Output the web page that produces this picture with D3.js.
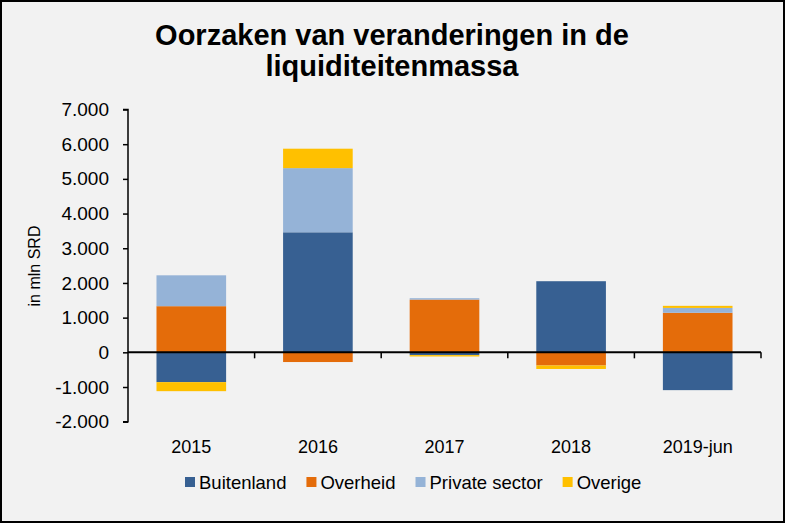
<!DOCTYPE html>
<html><head><meta charset="utf-8">
<script src="https://cdn.jsdelivr.net/npm/d3@7"></script>
<style>
html,body{margin:0;padding:0;background:#f2f2f2;}
svg{display:block;font-family:Arial,"Liberation Sans",sans-serif;}
</style></head>
<body>
<svg id="chart" width="785" height="523"></svg>
<script>
const categories = ["2015","2016","2017","2018","2019-jun"];
const seriesNames = ["Buitenland","Overheid","Private sector","Overige"];
const buitenland = [-860, 3460, -80, 2050, -1090];
const overheid   = [1330, -280, 1520, -380, 1140];
const privateSector = [890, 1850, 40, 0, 140];
const overige    = [-260, 560, -40, -100, 60];
const yTicks = [-2000,-1000,0,1000,2000,3000,4000,5000,6000,7000];
const colors = ["#376092","#e46c0a","#95b3d7","#ffc000"];

(function(){
const rows = categories.map((c,i)=>({cat:c,
  "Buitenland":buitenland[i],"Overheid":overheid[i],
  "Private sector":privateSector[i],"Overige":overige[i]}));

const svg = d3.select("#chart");
const W=785,H=523;
svg.append("rect").attr("x",1).attr("y",1).attr("width",W-2).attr("height",H-2)
  .attr("fill","#f2f2f2").attr("stroke","#000").attr("stroke-width",2);

const pLeft=128,pRight=761,pTop=109.5,pBottom=421.7;
const x = d3.scaleBand().domain(categories).range([pLeft,pRight]).paddingInner(0.45).paddingOuter(0.225);
const y = d3.scaleLinear().domain([-2000,7000]).range([pBottom,pTop]);

const stacked = d3.stack().keys(seriesNames).offset(d3.stackOffsetDiverging)(rows);

svg.append("g").selectAll("g").data(stacked).join("g")
  .attr("fill",(d,i)=>colors[i])
  .selectAll("rect").data(d=>d).join("rect")
  .attr("x",d=>x(d.data.cat))
  .attr("width",x.bandwidth())
  .attr("y",d=>y(Math.max(d[0],d[1])))
  .attr("height",d=>Math.abs(y(d[0])-y(d[1])));

// Y axis
const fmt = d=>d3.format(",")(d).replace(/,/g,".").replace("\u2212","-");
const yAxis = d3.axisLeft(y).tickValues(yTicks).tickSize(5).tickPadding(14).tickFormat(fmt);
const gy = svg.append("g").attr("transform",`translate(${pLeft},0)`).call(yAxis);
gy.select(".domain").attr("stroke","#000").attr("stroke-width",1.5).attr("d",`M-5,${pTop}H0V${pBottom}H-5`);
gy.selectAll(".tick line").attr("stroke","#000").attr("stroke-width",1.5);
gy.selectAll(".tick text").attr("font-size",19).attr("fill","#000").attr("font-family","Arial,'Liberation Sans',sans-serif");

// X axis at zero
const y0 = y(0);
const gx = svg.append("g");
gx.append("line").attr("x1",pLeft).attr("x2",pRight).attr("y1",y0).attr("y2",y0)
  .attr("stroke","#000").attr("stroke-width",2);
const centers = categories.map(c=>x(c)+x.bandwidth()/2);
const bnds = centers.slice(1).map((c,i)=>(c+centers[i])/2).concat([pRight]);
gx.selectAll("line.tk").data(bnds).join("line").attr("class","tk")
  .attr("x1",d=>d).attr("x2",d=>d).attr("y1",y0).attr("y2",y0+6)
  .attr("stroke","#000").attr("stroke-width",1.5);
svg.append("g").selectAll("text").data(categories).join("text")
  .attr("x",d=>x(d)+x.bandwidth()/2).attr("y",453)
  .attr("text-anchor","middle").attr("font-size",18).attr("fill","#000")
  .text(d=>d);

// Y title
svg.append("text").attr("transform","translate(40,266) rotate(-90)")
  .attr("text-anchor","middle").attr("font-size",16).attr("fill","#000").text("in mln SRD");

// Title
const title = svg.append("text").attr("text-anchor","middle").attr("font-weight","bold")
  .attr("font-size",29).attr("fill","#000");
title.append("tspan").attr("x",392).attr("y",45).text("Oorzaken van veranderingen in de");
title.append("tspan").attr("x",392).attr("y",76).text("liquiditeitenmassa");

// Legend
const lg = svg.append("g");
let lx = 185;
seriesNames.forEach((n,i)=>{
  lg.append("rect").attr("x",lx).attr("y",477).attr("width",10).attr("height",10).attr("fill",colors[i]);
  const t = lg.append("text").attr("x",lx+14).attr("y",489).attr("font-size",18.5).attr("fill","#000").text(n);
  lx += 14 + t.node().getComputedTextLength() + 20;
});
})();
</script>
</body></html>
